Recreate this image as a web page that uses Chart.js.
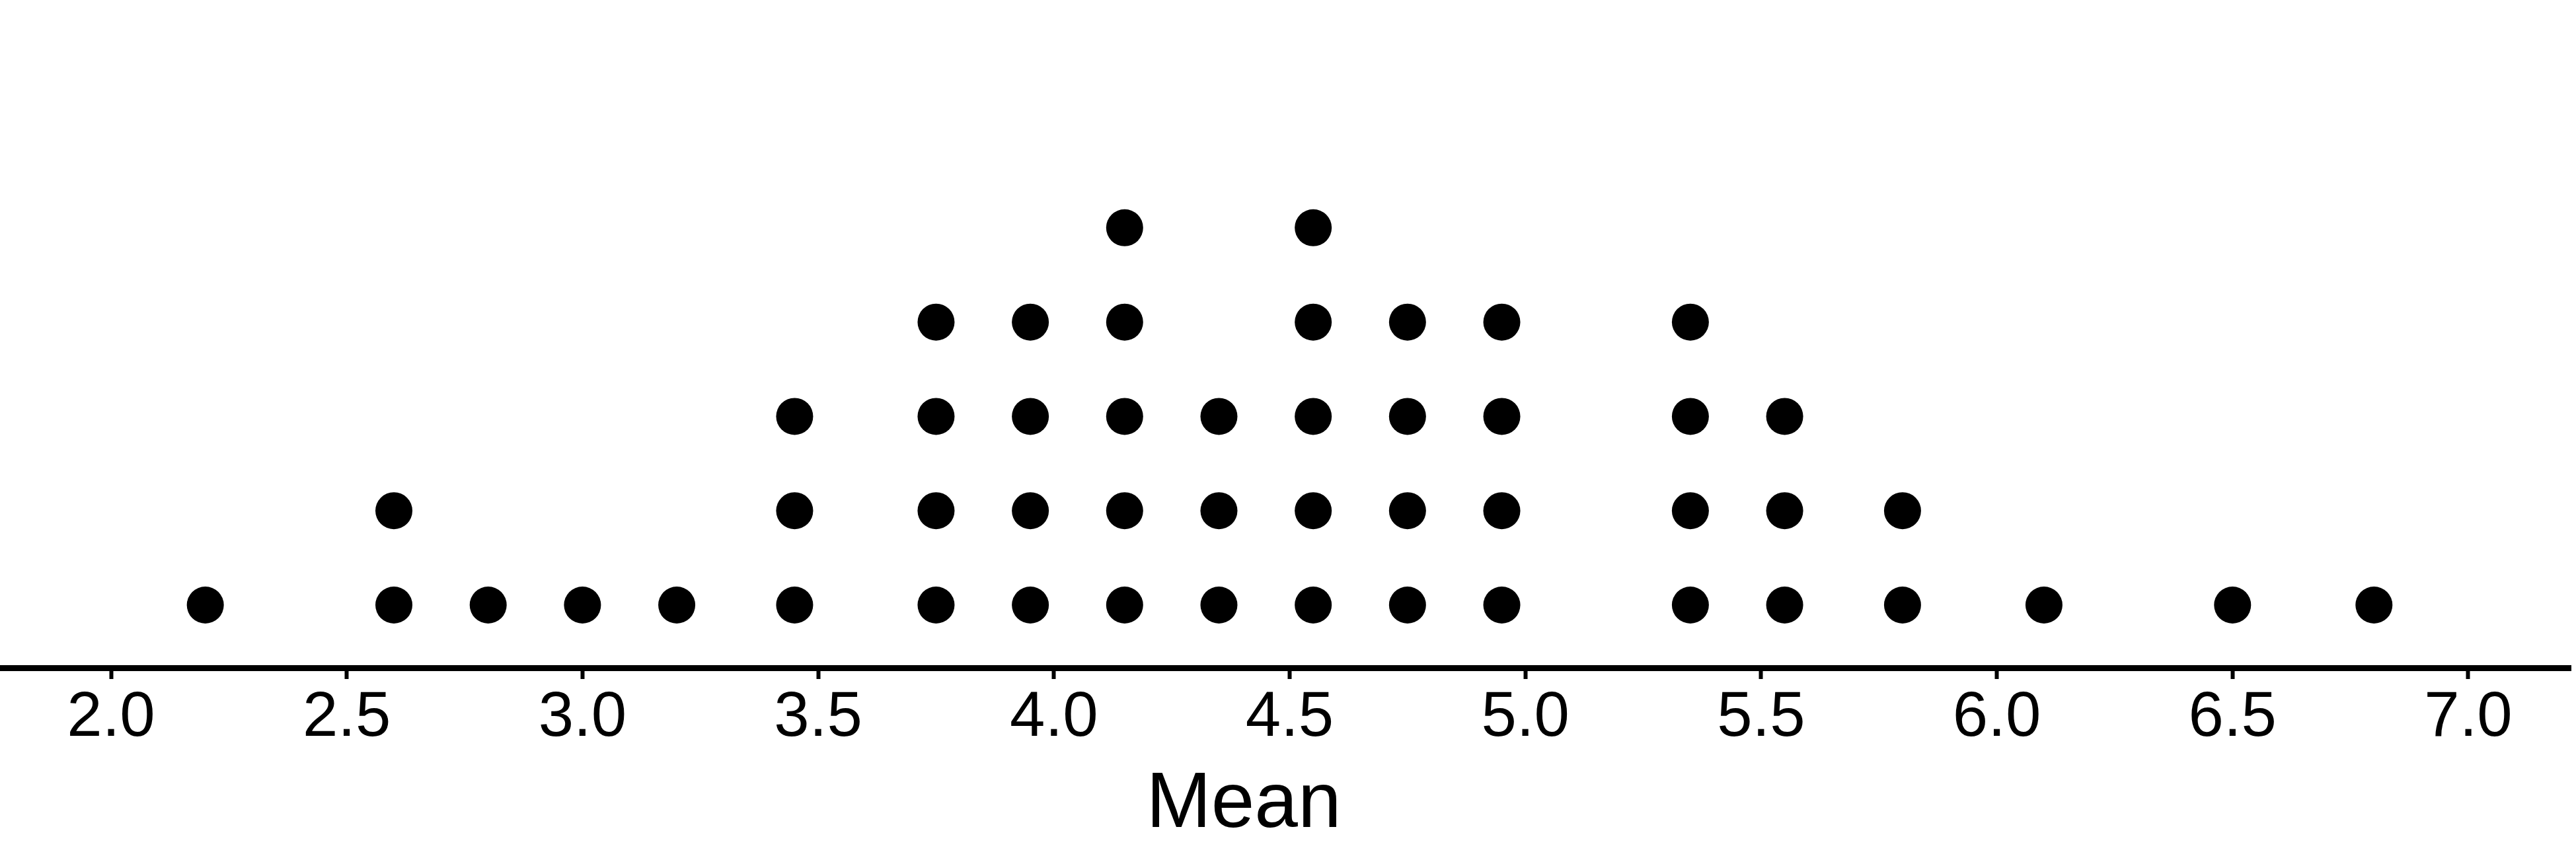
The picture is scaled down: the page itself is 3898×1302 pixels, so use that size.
<!DOCTYPE html>
<html>
<head>
<meta charset="utf-8">
<script src="https://cdn.jsdelivr.net/npm/chart.js@4"></script>
<style>
  html, body { margin: 0; padding: 0; background: #fff; }
  #wrap { width: 3898px; height: 1302px; position: relative; }
</style>
</head>
<body>
<div id="wrap"><canvas id="dotplot"></canvas></div>
<script>
const means = [2.2, 2.6, 2.8, 3.0, 3.2, 3.45, 3.75, 3.95, 4.15, 4.35, 4.55, 4.75, 4.95, 5.35, 5.55, 5.8, 6.1, 6.5, 6.8];
const counts = [1, 2, 1, 1, 1, 3, 4, 4, 5, 3, 5, 4, 4, 4, 3, 2, 1, 1, 1];
const tickValues = [2.0, 2.5, 3.0, 3.5, 4.0, 4.5, 5.0, 5.5, 6.0, 6.5, 7.0];
const axisTitle = "Mean";

const FONT = "'Liberation Sans', Arial, Helvetica, sans-serif";

// stack the dots for each mean: 1st dot at y=1, 2nd at y=2 ...
const points = [];
means.forEach((m, i) => {
  for (let k = 1; k <= counts[i]; k++) points.push({ x: m, y: k });
});

// axis title sits a bit left of the plot centre in the original
const axisTitlePlugin = {
  id: "axisTitle",
  afterDraw(chart) {
    const { ctx, chartArea } = chart;
    const xScale = chart.scales.x;
    ctx.save();
    ctx.font = "118px " + FONT;
    ctx.fillStyle = "#000";
    ctx.textAlign = "center";
    ctx.textBaseline = "alphabetic";
    ctx.fillText(axisTitle, chartArea.left + (chartArea.right - chartArea.left) * 0.4838, xScale.bottom - 50);
    ctx.restore();
  },
};

new Chart(document.getElementById("dotplot"), {
  type: "scatter",
  data: {
    datasets: [{
      data: points,
      pointRadius: 28,
      pointHoverRadius: 28,
      pointBackgroundColor: "#000",
      pointBorderWidth: 0,
      showLine: false,
    }],
  },
  options: {
    responsive: true,
    maintainAspectRatio: false,
    animation: false,
    devicePixelRatio: 1,
    layout: { autoPadding: false, padding: { left: 0, right: 8, top: 0, bottom: 0 } },
    plugins: { legend: { display: false }, tooltip: { enabled: false } },
    scales: {
      x: {
        type: "linear",
        min: 1.7645,
        max: 7.2173,
        afterBuildTicks: (s) => { s.ticks = tickValues.map((v) => ({ value: v })); },
        afterFit: (s) => { s.height = 291; },
        grid: { drawOnChartArea: false, drawTicks: true, tickLength: 17, tickWidth: 6, tickColor: "#000" },
        border: { display: true, color: "#000", width: 9 },
        ticks: {
          color: "#000",
          padding: 2,
          autoSkip: false,
          maxRotation: 0,
          font: { family: FONT, size: 96 },
          callback: (v) => Number(v).toFixed(1),
        },
      },
      y: { display: false, min: 0.3347, max: 7.415 },
    },
  },
  plugins: [axisTitlePlugin],
});
</script>
</body>
</html>
